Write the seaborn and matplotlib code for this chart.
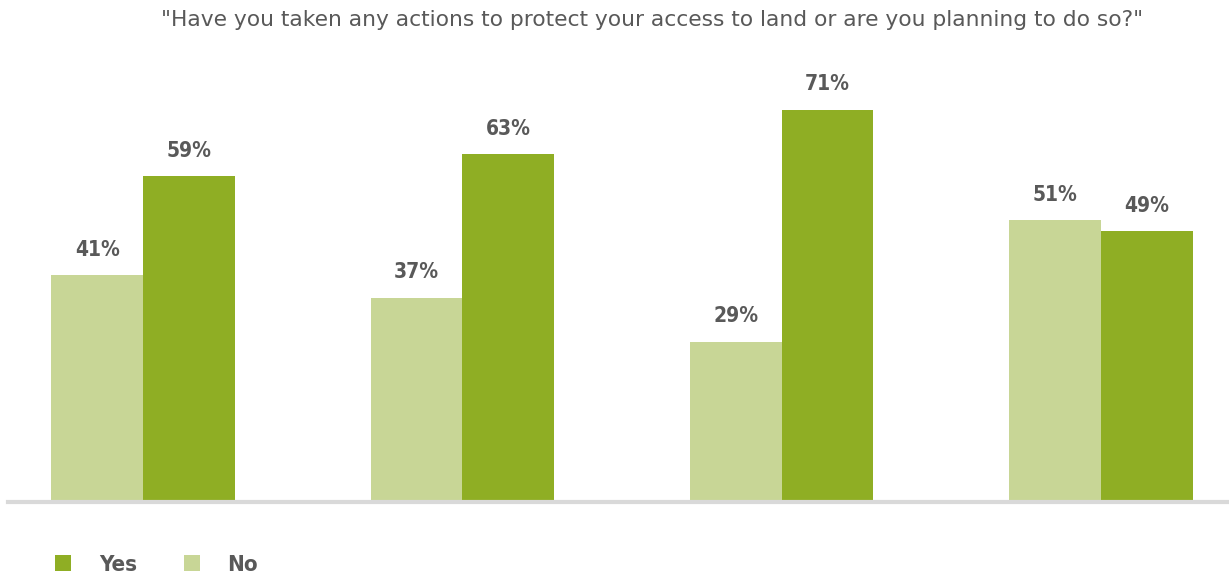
import matplotlib
matplotlib.use("Agg")
import matplotlib.pyplot as plt
from matplotlib.patches import Patch
import seaborn as sns
import pandas as pd

# Survey results per respondent group (share of answers, %)
groups = ["Group A", "Group B", "Group C", "Group D"]
answers = ["No", "Yes"]
no_values = [41, 37, 29, 51]
yes_values = [59, 63, 71, 49]

title = '"Have you taken any actions to protect your access to land or are you planning to do so?"'

colors = {"No": "#c8d696", "Yes": "#8fae24"}
text_color = "#595959"

df = pd.DataFrame({
    "group": groups * 2,
    "answer": ["No"] * len(groups) + ["Yes"] * len(groups),
    "value": no_values + yes_values,
})

sns.set_theme(style="white")
plt.rcParams["font.family"] = ["DejaVu Sans"]
plt.rcParams["font.stretch"] = "condensed"

fig = plt.figure(figsize=(12.29, 5.76), dpi=100)
ax = fig.add_axes([8 / 1229, 74 / 576, 1 - 8 / 1229, (502 - 60) / 576])

sns.barplot(data=df, x="group", y="value", hue="answer", hue_order=answers,
            order=groups, palette=colors, width=0.575, saturation=1,
            edgecolor="none", linewidth=0, legend=False, ax=ax)

ax.set_xlim(-0.423, 3.401)
ax.set_ylim(0, 80)
ax.set_xlabel("")
ax.set_ylabel("")
ax.set_xticks([])
ax.set_yticks([])
for side in ["top", "right", "left"]:
    ax.spines[side].set_visible(False)
ax.spines["bottom"].set_color("#d9d9d9")
ax.spines["bottom"].set_linewidth(3)

for container in ax.containers:
    ax.bar_label(container, labels=[f"{v:.0f}%" for v in container.datavalues],
                 padding=11, fontsize=15, fontweight="bold", color=text_color)

fig.text(652 / 1229, 1 - 20 / 576, title, ha="center", va="center",
         fontsize=15.7, color=text_color, fontstretch="normal")

handles = [Patch(facecolor=colors["Yes"], edgecolor="none", label="Yes"),
           Patch(facecolor=colors["No"], edgecolor="none", label="No")]
leg = fig.legend(handles=handles, loc="center left", bbox_to_anchor=(55 / 1229, 1 - 565 / 576),
                 ncol=2, frameon=False, fontsize=16, handlelength=0.72, handleheight=0.72,
                 handletextpad=1.25, columnspacing=2.1, borderpad=0, borderaxespad=0)
for t in leg.get_texts():
    t.set_fontweight("bold")
    t.set_color(text_color)

fig.savefig("out.png", dpi=100, facecolor="white")
